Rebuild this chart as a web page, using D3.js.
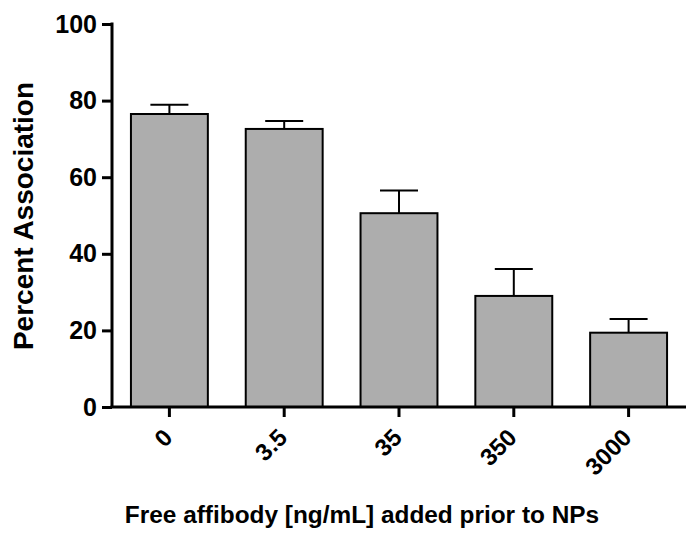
<!DOCTYPE html>
<html>
<head>
<meta charset="utf-8">
<script src="https://cdn.jsdelivr.net/npm/d3@7"></script>
<style>
  body { margin: 0; background: #fff; }
  svg { font-family: "Liberation Sans", Arial, sans-serif; font-weight: bold; }
</style>
</head>
<body>
<svg id="chart" width="700" height="550"></svg>
<script>
// data
const categories = ["0", "3.5", "35", "350", "3000"];
const means = [76.5, 72.6, 50.6, 29.0, 19.4];
const errors = [2.4, 2.1, 5.9, 7.0, 3.6];
const yTicks = [0, 20, 40, 60, 80, 100];

const plotLeft = 112, plotRight = 686, plotTop = 24, plotBottom = 407;

const svg = d3.select("#chart");

const x = d3.scaleBand()
  .domain(categories)
  .range([plotLeft, plotRight])
  .paddingInner(0.33)
  .paddingOuter(0.165);

const y = d3.scaleLinear()
  .domain([0, 100])
  .range([plotBottom, plotTop]);

const data = categories.map((c, i) => ({ cat: c, mean: means[i], err: errors[i] }));

// error bars (upper only), drawn behind the bars
const eb = svg.append("g");
eb.selectAll("line.stem").data(data).join("line")
  .attr("class", "stem")
  .attr("x1", d => x(d.cat) + x.bandwidth() / 2)
  .attr("x2", d => x(d.cat) + x.bandwidth() / 2)
  .attr("y1", d => y(d.mean))
  .attr("y2", d => y(d.mean + d.err))
  .attr("stroke", "#000").attr("stroke-width", 2);
eb.selectAll("line.cap").data(data).join("line")
  .attr("class", "cap")
  .attr("x1", d => x(d.cat) + x.bandwidth() / 2 - 19)
  .attr("x2", d => x(d.cat) + x.bandwidth() / 2 + 19)
  .attr("y1", d => y(d.mean + d.err))
  .attr("y2", d => y(d.mean + d.err))
  .attr("stroke", "#000").attr("stroke-width", 2);

// bars
svg.append("g").selectAll("rect").data(data).join("rect")
  .attr("x", d => x(d.cat))
  .attr("y", d => y(d.mean))
  .attr("width", x.bandwidth())
  .attr("height", d => y(0) - y(d.mean))
  .attr("fill", "#adadad")
  .attr("stroke", "#000")
  .attr("stroke-width", 2);

// y axis
const yAxis = svg.append("g")
  .attr("transform", `translate(${plotLeft},0)`)
  .call(d3.axisLeft(y).tickValues(yTicks).tickSize(10).tickPadding(5).tickSizeOuter(0));
yAxis.select(".domain").attr("stroke-width", 3).attr("d", `M0,${plotTop - 1.5}V${plotBottom}`);
yAxis.selectAll(".tick line").attr("stroke-width", 3);
yAxis.selectAll(".tick text")
  .attr("font-size", 25).attr("font-weight", "bold").attr("fill", "#000")
  .attr("font-family", "Liberation Sans, Arial, sans-serif");

// x axis
const xAxis = svg.append("g")
  .attr("transform", `translate(0,${plotBottom})`)
  .call(d3.axisBottom(x).tickSize(10).tickSizeOuter(0));
xAxis.select(".domain").attr("stroke-width", 3).attr("d", `M${plotLeft - 1.5},0H${plotRight}`);
xAxis.selectAll(".tick line").attr("stroke-width", 3);
xAxis.selectAll(".tick text")
  .attr("font-size", 24).attr("font-weight", "bold").attr("fill", "#000")
  .attr("font-family", "Liberation Sans, Arial, sans-serif")
  .attr("text-anchor", "end")
  .attr("x", 0).attr("y", 0)
  .attr("dy", "0.35em")
  .attr("transform", "translate(-1.5,26) rotate(-45)");

// axis titles
svg.append("text")
  .attr("transform", "translate(33,216) rotate(-90)")
  .attr("text-anchor", "middle")
  .attr("font-size", 28)
  .text("Percent Association");

svg.append("text")
  .attr("x", 362).attr("y", 523)
  .attr("text-anchor", "middle")
  .attr("font-size", 24.4)
  .text("Free affibody [ng/mL] added prior to NPs");
</script>
</body>
</html>
